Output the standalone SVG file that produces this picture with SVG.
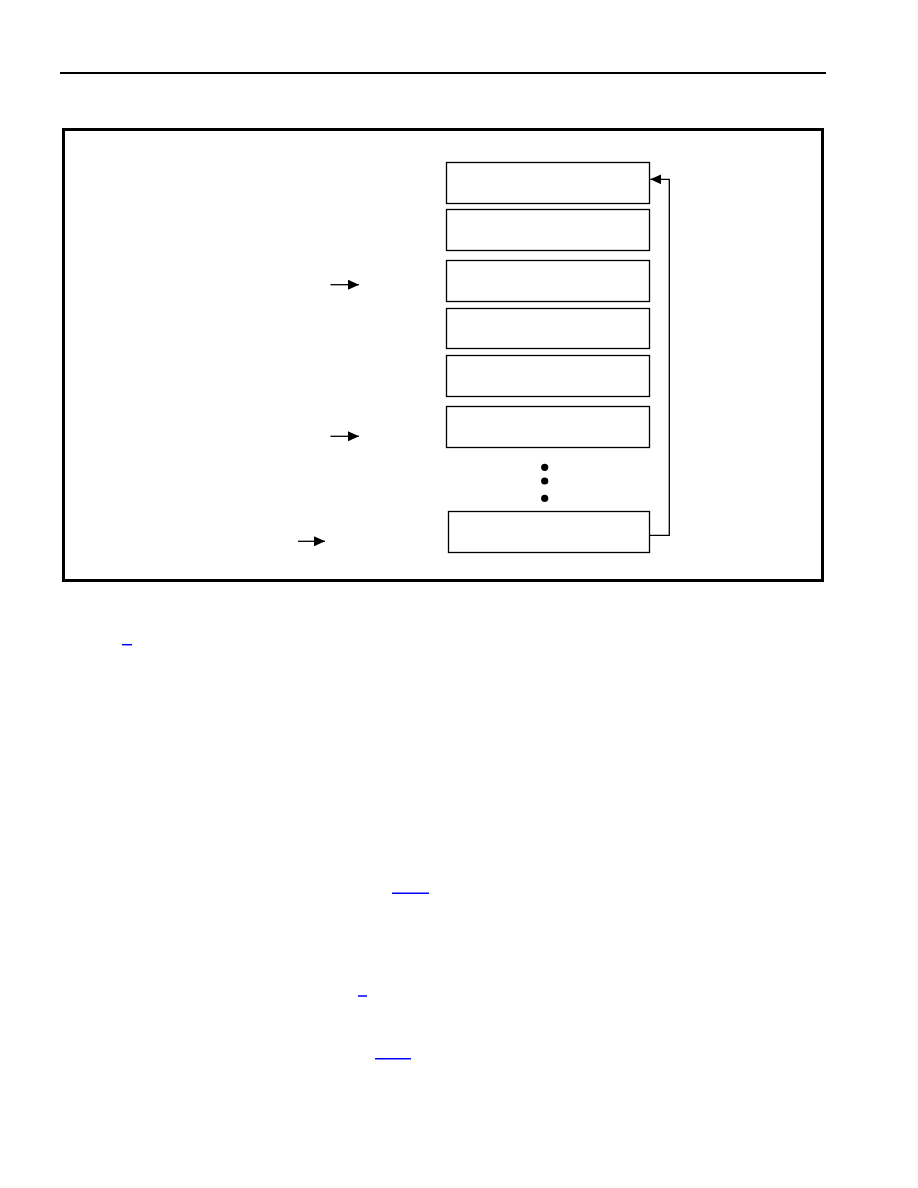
<svg xmlns="http://www.w3.org/2000/svg" width="918" height="1188" viewBox="0 0 918 1188">
<style>
.box{fill:#fff;stroke:#000;stroke-width:1.3}
.ln{fill:none;stroke:#000;stroke-width:1.3}
.lk{stroke:#0000ff;stroke-width:1.5}
</style>
<defs>
<marker id="ah" markerWidth="11" markerHeight="10" refX="11" refY="5" orient="auto" markerUnits="userSpaceOnUse">
<path d="M0,0 L11,5 L0,10 Z" fill="#000"/>
</marker>
</defs>
<rect width="918" height="1188" fill="#fff"/>
<line x1="60" y1="73" x2="826" y2="73" stroke="#000" stroke-width="2.2"/>
<rect x="63.5" y="129.5" width="759" height="451" fill="none" stroke="#000" stroke-width="3"/>
<g id="n1"><rect class="box" x="446.5" y="162.5" width="203" height="41"/></g>
<g id="n2"><rect class="box" x="446.5" y="209.5" width="203" height="41"/></g>
<g id="n3"><rect class="box" x="446.5" y="260.5" width="203" height="41"/></g>
<g id="n4"><rect class="box" x="446.5" y="308.5" width="203" height="40"/></g>
<g id="n5"><rect class="box" x="446.5" y="355.5" width="203" height="41"/></g>
<g id="n6"><rect class="box" x="446.5" y="406.5" width="203" height="41"/></g>
<g id="dots">
<circle cx="544.7" cy="467.3" r="3.6"/>
<circle cx="544.7" cy="481" r="3.6"/>
<circle cx="544.7" cy="498.3" r="3.6"/>
</g>
<g id="n7"><rect class="box" x="448.5" y="511.5" width="201" height="41"/></g>
<g id="connectors">
<polyline class="ln" points="649.7,535.3 669.3,535.3 669.3,179.3 650.3,179.3" marker-end="url(#ah)"/>
<line class="ln" x1="330.5" y1="284.7" x2="359" y2="284.7" marker-end="url(#ah)"/>
<line class="ln" x1="330.5" y1="436.3" x2="359" y2="436.3" marker-end="url(#ah)"/>
<line class="ln" x1="298" y1="541.3" x2="325" y2="541.3" marker-end="url(#ah)"/>
</g>
<line class="lk" x1="122" y1="644.7" x2="132" y2="644.7"/>
<line class="lk" x1="392" y1="893.3" x2="429" y2="893.3" stroke-width="1.2"/>
<line class="lk" x1="358" y1="996" x2="367" y2="996" stroke-width="1.2"/>
<line class="lk" x1="375" y1="1058.7" x2="411" y2="1058.7" stroke-width="2"/>
</svg>
